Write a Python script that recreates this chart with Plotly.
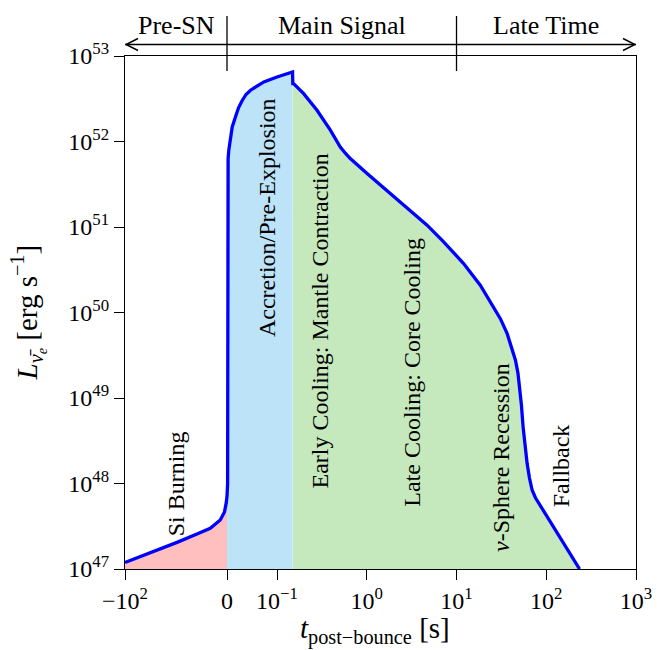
import numpy as np
import plotly.graph_objects as go

# ---------------- data ----------------
# pre-supernova (Si burning), time in s, luminosity in erg/s
t_presn = [-100, -70, -49, -30, -16.4, -6.6, -2.5, -0.8, 0]
L_presn = [1.19e47, 1.63e47, 2.05e47, 2.55e47, 2.99e47, 3.74e47, 4.65e47, 5.89e47, 7.08e47]

# accretion / pre-explosion
t_accr = [0, 0.0012, 0.0015, 0.0022, 0.0036, 0.007, 0.0104, 0.017, 0.023, 0.0304, 0.038,
          0.047, 0.06, 0.0736, 0.1, 0.122, 0.149]
L_accr = [7.08e47, 1.0e48, 3.98e51, 6.3e51, 7.94e51, 1.15e52, 1.48e52, 1.95e52, 2.48e52,
          3.02e52, 3.55e52, 3.98e52, 4.47e52, 4.97e52, 5.69e52, 6.11e52, 6.50e52]

# cooling, recession, fallback
t_cool = [0.15, 0.153, 0.198, 0.279, 0.393, 0.447, 0.507, 0.577, 0.655, 1.008, 1.83, 3.33,
          4.70, 7.19, 12.0, 18.4, 26.0, 30.8, 36.6, 40.8, 45.4, 48.4, 50.7, 52.9, 55.2, 57.9,
          61.2, 65.0, 69.6, 75.8, 235]
L_cool = [4.75e52, 4.75e52, 3.63e52, 2.32e52, 1.36e52, 1.08e52, 8.63e51, 7.30e51, 6.32e51,
          4.22e51, 2.47e51, 1.44e51, 1.05e51, 6.70e50, 3.74e50, 2.09e50, 1.16e50, 8.47e49,
          5.69e49, 4.05e49, 2.77e49, 1.95e49, 1.35e49, 8.26e48, 4.60e48, 2.81e48, 1.72e48,
          1.16e48, 8.38e47, 6.81e47, 1.0e47]

x_tick_vals = [-100, 0, 0.1, 1, 10, 100, 1000]
x_tick_text = ["\u221210<sup>2</sup>", "0", "10<sup>\u22121</sup>", "10<sup>0</sup>",
               "10<sup>1</sup>", "10<sup>2</sup>", "10<sup>3</sup>"]
y_exps = [47, 48, 49, 50, 51, 52, 53]

phase_names = ["Pre-SN", "Main Signal", "Late Time"]
phase_bounds = [-100, 0, 10, 1000]

region_labels = ["Si Burning", "Accretion/Pre-Explosion", "Early Cooling: Mantle Contraction",
                 "Late Cooling: Core Cooling", "<i>\u03bd</i>-Sphere Recession", "Fallback"]
region_label_t = [-49.8, 0.079, 0.304, 3.2, 30.8, 144]
region_label_L = [9.86e47, 1.29e51, 7.92e49, 1.98e49, 2.01e48, 1.61e48]

# ---------------- custom symlog-like scale ----------------
DEC_LIN = 50 / 89.74   # width of [0, 0.1] in decades
DEC_NEG = 102 / 89.74  # width of [-100, 0] in decades


def xs(t):
    t = np.asarray(t, float)
    u = np.empty_like(t)
    pos = t >= 0.1
    u[pos] = np.log10(t[pos])
    lin = (t >= 0) & (t < 0.1)
    u[lin] = -1 - (1 - t[lin] / 0.1) * DEC_LIN
    neg = t < 0
    u[neg] = -1 - DEC_LIN + (t[neg] / 100) * DEC_NEG
    return u


FONT = "Liberation Serif"
YMIN = 10.0 ** y_exps[0]

fig = go.Figure()


def region(t, L, color):
    ux = list(xs(t))
    fig.add_trace(go.Scatter(
        x=ux + [ux[-1], ux[0]], y=list(L) + [YMIN, YMIN],
        fill="toself", fillcolor=color, mode="none", hoverinfo="skip", showlegend=False))


region(t_presn, L_presn, "#ffbfbf")
region(t_accr, L_accr, "#bde3f8")
region(t_cool, L_cool, "#c6e8bd")

t_all = t_presn + t_accr[1:] + t_cool
L_all = L_presn + L_accr[1:] + L_cool
fig.add_trace(go.Scatter(x=xs(t_all), y=L_all, mode="lines",
                         line=dict(color="#0000ff", width=3.3), showlegend=False))

# region labels
for txt, t, L in zip(region_labels, region_label_t, region_label_L):
    fig.add_annotation(x=float(xs([t])[0]), y=np.log10(L), xref="x", yref="y", text=txt,
                       textangle=-90, showarrow=False, xanchor="center", yanchor="middle",
                       font=dict(family=FONT, size=24, color="black"))

# top phase bar
H = 513.0
y_arrow = 1 + 11.5 / H
y_sep0 = 1 - 15 / H
y_sep1 = 1 + 40 / H
y_txt = 1 + 31 / H
ub = xs(phase_bounds)
shapes = []
for i in range(3):
    shapes.append(dict(type="line", xref="x", yref="paper", x0=ub[i], x1=ub[i + 1],
                       y0=y_arrow, y1=y_arrow, line=dict(color="black", width=1.5)))
    fig.add_annotation(x=(ub[i] + ub[i + 1]) / 2, y=y_txt, xref="x", yref="paper",
                       text=phase_names[i], showarrow=False, xanchor="center", yanchor="middle",
                       font=dict(family=FONT, size=26, color="black"))
for b in ub[1:3]:
    shapes.append(dict(type="line", xref="x", yref="paper", x0=b, x1=b, y0=y_sep0, y1=y_sep1,
                       line=dict(color="black", width=1.3)))
# arrow heads (open chevrons)
shapes.append(dict(type="path", xref="x", yref="paper", xsizemode="pixel", ysizemode="pixel",
                   xanchor=ub[0], yanchor=y_arrow, path="M 13,6 L 1,0 L 13,-6",
                   line=dict(color="black", width=1.5)))
shapes.append(dict(type="path", xref="x", yref="paper", xsizemode="pixel", ysizemode="pixel",
                   xanchor=ub[3], yanchor=y_arrow, path="M -13,6 L -1,0 L -13,-6",
                   line=dict(color="black", width=1.5)))

# axis titles
fig.add_annotation(x=-97 / 511, y=0.5, xref="paper", yref="paper",
                   text="<i>L</i><sub><i>\u03bd\u0304<sub>e</sub></i></sub> [erg s<sup>\u22121</sup>]",
                   textangle=-90, showarrow=False, xanchor="center", yanchor="middle",
                   font=dict(family=FONT, size=29, color="black"))
fig.add_annotation(x=0.49, y=-62 / H, xref="paper", yref="paper",
                   text="<i>t</i><sub>post\u2212bounce</sub> [s]",
                   showarrow=False, xanchor="center", yanchor="middle",
                   font=dict(family=FONT, size=29, color="black"))

axis_common = dict(showline=True, linecolor="black", linewidth=1.3, mirror=True,
                   ticks="outside", ticklen=10, tickwidth=1.3, tickcolor="black",
                   showgrid=False, zeroline=False,
                   tickfont=dict(family=FONT, size=24, color="black"))

fig.update_layout(
    width=669, height=650,
    margin=dict(l=125, r=33, t=56, b=81),
    plot_bgcolor="white", paper_bgcolor="white",
    shapes=shapes,
    xaxis=dict(range=[float(xs([-100])[0]), 3.0], tickvals=list(xs(x_tick_vals)),
               ticktext=x_tick_text, **axis_common),
    yaxis=dict(type="log", range=[y_exps[0], y_exps[-1]],
               tickvals=[10.0 ** e for e in y_exps],
               ticktext=["10<sup>%d</sup>" % e for e in y_exps], **axis_common),
    showlegend=False,
)

fig.write_html("out.html", config={"displayModeBar": False},
               post_script="document.body.style.margin='0';")
